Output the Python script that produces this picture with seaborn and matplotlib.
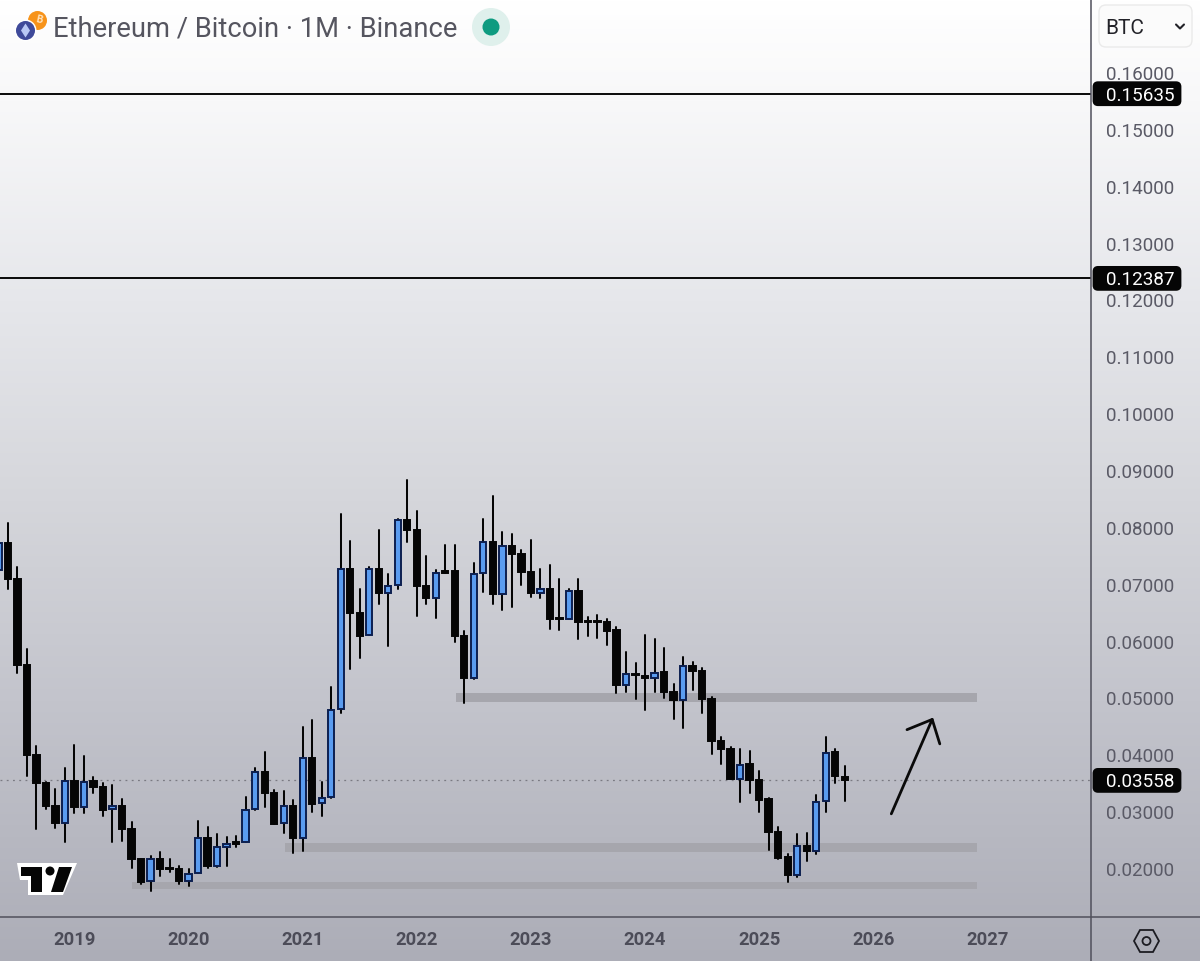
import numpy as np
import pandas as pd
import matplotlib
matplotlib.use("Agg")
import matplotlib.pyplot as plt
import seaborn as sns
from matplotlib.patches import Circle, FancyBboxPatch, Polygon

# monthly candles, may 2018 to oct 2025
opens = [.07259, .07733, .07100, .05588, .04005, .03512, .03108, .02809, .03548, .03090,
         .03548, .03442, .03055, .03108, .02703, .02176, .01789, .02176, .02009, .02000,
         .01789, .01930, .02545, .02053, .02387, .02466, .02475, .03055, .03706, .03337,
         .02809, .03108, .02545, .03952, .03161, .03266, .04814, .07276, .06502, .06115,
         .07276, .06854, .06995, .08138, .07962, .06977, .06766, .07241, .07241, .06098,
         .05359, .07206, .07751, .06836, .07681, .07540, .07223, .06854, .06924, .06414,
         .06397, .06889, .06362, .06362, .06344, .06203, .05236, .05429, .05394, .05359,
         .05465, .05113, .04972, .05570, .05482, .04990, .04251, .04110, .03583, .03847,
         .03565, .03231, .02651, .02211, .01894, .02405, .02317, .03196, .04058, .03618]
highs = [.07751, .08085, .07311, .05869, .04163, .03530, .03407, .03776, .04181, .03987,
         .03618, .03512, .03477, .03231, .02827, .02176, .02229, .02299, .02176, .02053,
         .02000, .02844, .02739, .02616, .02563, .02580, .03266, .03776, .04058, .03389,
         .03372, .03214, .04497, .04620, .03530, .05201, .08243, .07769, .06924, .07311,
         .07962, .07188, .08155, .08841, .08296, .07505, .07259, .07698, .07698, .06186,
         .07382, .08155, .08560, .07927, .07892, .07610, .07786, .07276, .07346, .07100,
         .06924, .07100, .06432, .06467, .06397, .06256, .05816, .05623, .06115, .06045,
         .05887, .05254, .05728, .05641, .05535, .05025, .04321, .04146, .04110, .04075,
         .03724, .03249, .02739, .02264, .02616, .02633, .03301, .04321, .04110, .03811]
lows = [.07223, .06924, .05447, .03636, .02703, .03055, .02721, .02475, .02985, .02985,
        .03337, .02932, .02475, .02492, .02018, .01736, .01613, .01877, .01947, .01736,
        .01701, .01930, .02018, .02035, .02053, .02387, .02475, .03038, .03090, .02791,
        .02633, .02281, .02317, .03002, .02932, .03249, .04744, .05517, .05711, .06115,
        .06661, .05922, .06924, .07751, .06450, .06661, .06414, .07206, .05992, .04919,
        .05342, .06872, .06661, .06555, .06608, .06995, .06784, .06766, .06221, .06203,
        .06397, .06045, .06098, .06063, .05939, .05095, .05113, .04990, .04796, .05113,
        .05007, .04638, .04480, .05148, .04744, .04023, .03847, .03583, .03178, .03337,
        .03002, .02334, .02176, .01771, .01859, .02141, .02264, .03002, .03512, .03196]
closes = [.07733, .07100, .05588, .04005, .03512, .03108, .02809, .03548, .03090, .03530,
          .03442, .03038, .03108, .02703, .02176, .01771, .02176, .02000, .01991, .01789,
          .01912, .02545, .02053, .02387, .02440, .02448, .03038, .03706, .03337, .02791,
          .03108, .02545, .03952, .03143, .03249, .04796, .07276, .06502, .06098, .07276,
          .06854, .06977, .08138, .07962, .06977, .06766, .07206, .07206, .06098, .05359,
          .07188, .07751, .06836, .07681, .07540, .07223, .06854, .06924, .06397, .06397,
          .06889, .06344, .06344, .06344, .06186, .05236, .05429, .05412, .05359, .05447,
          .05113, .04972, .05570, .05482, .04990, .04251, .04110, .03583, .03829, .03565,
          .03214, .02651, .02193, .01894, .02405, .02317, .03178, .04040, .03636, .03558]

price_ticks = [.02, .03, .04, .05, .06, .07, .08, .09, .10, .11, .12, .13, .14, .15, .16]
year_labels = ["2019", "2020", "2021", "2022", "2023", "2024", "2025", "2026", "2027"]
level_lines = [.15635, .12387]
last_price = .03558
zone_tops = [.05095, .02457, .01771]
zone_bottoms = [.04937, .02299, .01648]
zone_starts = [40.1, 22.1, 6.05]
zone_end = 94.9
arrow_shaft_x = [85.9, 90.2]
arrow_shaft_y = [.0297, .0463]
arrow_head_x = [87.55, 90.2, 91.0]
arrow_head_y = [.0445, .0463, .0420]

BLUE = "#5a9cf0"
NAVY = "#0c1f50"
INK = "#050505"
GRID = "#50505c"
TEXT = "#5a5a66"

sns.set_theme(style="white")
plt.rcParams["font.family"] = ["Roboto", "DejaVu Sans"]

W, H = 1200, 961
fig = plt.figure(figsize=(W / 100, H / 100), dpi=100)

# page gradient behind everything
bg = fig.add_axes([0, 0, 1, 1], zorder=0)
stops_y = [0, 100, 300, 500, 700, 961]
stops_v = [[255, 255, 255], [248, 248, 249], [230, 231, 235], [213, 214, 219], [195, 196, 204], [172, 173, 183]]
rows = np.arange(H)
grad = np.stack([np.interp(rows, stops_y, [s[i] for s in stops_v]) for i in range(3)], axis=1) / 255
bg.imshow(grad[:, None, :], aspect="auto", extent=[0, 1, 0, 1])
bg.axis("off")

ax = fig.add_axes([0, (H - 916) / H, 1091 / W, 916 / H], zorder=1)
ax.patch.set_alpha(0)

df = pd.DataFrame({"month": np.arange(-8, 82), "open": opens, "high": highs, "low": lows, "close": closes})
df["bottom"] = df[["open", "close"]].min(axis=1)
df["body"] = (df["close"] - df["open"]).abs()

wicks = df.melt(id_vars="month", value_vars=["high", "low"], value_name="price")
sns.lineplot(data=wicks, x="month", y="price", units="month", estimator=None, color=INK,
             linewidth=1.45, zorder=3, ax=ax)

up = df[df["close"] > df["open"]]
down = df[df["close"] <= df["open"]]
for part, fill, edge in [(up, BLUE, NAVY), (down, INK, INK)]:
    sns.barplot(data=part, x="month", y="body", bottom=part["bottom"].values, native_scale=True,
                errorbar=None, color=fill, saturation=1, edgecolor=edge, linewidth=1.4,
                width=0.66, zorder=4, ax=ax)

for top, bot, start in zip(zone_tops, zone_bottoms, zone_starts):
    ax.fill_between([start, zone_end], bot, top, color="#a6a6ad", linewidth=0, zorder=2)
for level in level_lines:
    ax.axhline(level, color="#000000", linewidth=1.35, zorder=2)
ax.axhline(last_price, color="#7a7a82", linewidth=0.9, linestyle=(0, (1.5, 3.5)), zorder=1)

ax.plot(arrow_shaft_x, arrow_shaft_y, color="#0a0a0a", linewidth=2.0, zorder=5)
ax.plot(arrow_head_x, arrow_head_y, color="#0a0a0a", linewidth=2.0, zorder=5)

ax.set_xlim(-7.83, 106.9)
ax.set_ylim(.01173, .17283)
ax.set_xticks(np.arange(0, 108, 12), year_labels)
ax.set_yticks(price_ticks, [f"{p:.5f}" for p in price_ticks])
ax.yaxis.tick_right()
ax.tick_params(axis="y", length=0, pad=10.6, labelsize=13.6, labelcolor=TEXT)
ax.tick_params(axis="x", length=0, pad=10.5, labelsize=13.2, labelcolor="#4c4c58")
for lab in ax.get_xticklabels():
    lab.set_fontweight("bold")
ax.set_xlabel("")
ax.set_ylabel("")
sns.despine(ax=ax, left=True, bottom=True, right=True, top=True)

# interface bits on a pixel grid
ui = fig.add_axes([0, 0, 1, 1], zorder=2)
ui.set_xlim(0, W)
ui.set_ylim(H, 0)
ui.axis("off")
ui.patch.set_alpha(0)

ui.plot([1091, 1091], [0, H], color=GRID, linewidth=1.1)
ui.plot([0, W], [916.5, 916.5], color=GRID, linewidth=1.1)

# price tags
to_ui = ui.transData.inverted()
for val in level_lines + [last_price]:
    py = to_ui.transform(ax.transData.transform((0, val)))[1]
    ui.add_patch(FancyBboxPatch((1094, py - 11), 86, 22, boxstyle="round,pad=0,rounding_size=4",
                                facecolor="#050505", edgecolor="#050505", linewidth=2))
    ui.text(1106, py, f"{val:.5f}", color="white", fontsize=13.6, va="center_baseline", ha="left")

# title row
ui.text(53, 26.5, "Ethereum / Bitcoin · 1M · Binance", color="#55555f", fontsize=19.75,
        va="center_baseline", ha="left")
ui.add_patch(Circle((37.5, 20.5), 9.5, facecolor="#f7931a", edgecolor="none"))
ui.text(39, 20, "B", color="#ffe3bf", fontsize=7.5, fontweight="bold", rotation=-12,
        ha="center", va="center")
ui.add_patch(Circle((25.5, 30.5), 11, facecolor="white", edgecolor="none"))
ui.add_patch(Circle((25.5, 30.5), 9.5, facecolor="#3f4a9a", edgecolor="none"))
ui.add_patch(Polygon([(25.5, 23.5), (30, 30.5), (25.5, 37.5), (21, 30.5)], facecolor="#b9c8f5", edgecolor="none"))
ui.add_patch(Circle((491, 27), 19, facecolor="#dff0ec", edgecolor="none"))
ui.add_patch(Circle((491, 27), 8.5, facecolor="#0e9b80", edgecolor="none"))

# currency dropdown
ui.add_patch(FancyBboxPatch((1099, 5), 93, 42, boxstyle="round,pad=0,rounding_size=7",
                            facecolor="#fbfbfb", edgecolor="#eaeaea", linewidth=1))
ui.text(1105, 26.5, "BTC", color="#222228", fontsize=15, va="center_baseline", ha="left")
ui.plot([1176, 1180, 1184], [24.5, 28.5, 24.5], color="#222228", linewidth=1.5)

# settings hexagon
ui.add_patch(Polygon([(1134, 941), (1140, 930), (1153, 930), (1159, 941), (1153, 952), (1140, 952)],
                     facecolor="none", edgecolor="#1c1c22", linewidth=1.3))
ui.add_patch(Circle((1146.5, 941), 4, facecolor="none", edgecolor="#1c1c22", linewidth=1.3))

# tradingview mark
ui.add_patch(Polygon([(17, 863), (77, 863), (63, 895), (28, 895), (28, 880), (20, 880)],
                     facecolor="white", edgecolor="none"))
ui.add_patch(Polygon([(21, 867), (42, 867), (42, 892), (31, 892), (31, 876), (21, 876)], facecolor="#050505", edgecolor="none"))
ui.add_patch(Polygon([(59, 867), (72, 867), (63, 892), (51, 892)], facecolor="#050505", edgecolor="none"))
ui.add_patch(Circle((50, 871), 4.5, facecolor="#050505", edgecolor="none"))

fig.savefig("out.png", dpi=100)
